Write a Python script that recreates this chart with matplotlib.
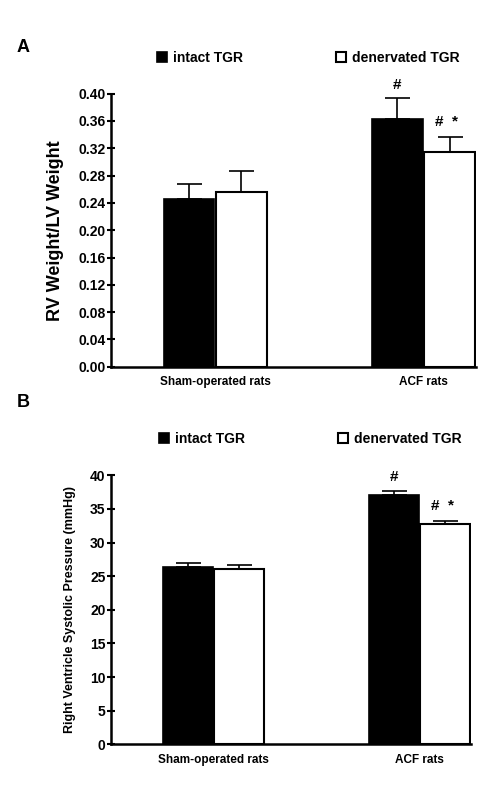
import matplotlib
matplotlib.use("Agg")
import numpy as np
from matplotlib import pyplot as plt
from matplotlib.patches import Patch

plt.rcParams["font.family"] = ["Liberation Sans", "DejaVu Sans"]
plt.rcParams["font.weight"] = "bold"

groups = ["Sham-operated rats", "ACF rats"]
series = ["intact TGR", "denervated TGR"]

# panel A: RV weight / LV weight
rv_ratio_intact = [0.246, 0.363]
rv_ratio_intact_err = [0.021, 0.030]
rv_ratio_denerv = [0.256, 0.315]
rv_ratio_denerv_err = [0.031, 0.021]
ticks_a = [0.00, 0.04, 0.08, 0.12, 0.16, 0.20, 0.24, 0.28, 0.32, 0.36, 0.40]

# panel B: right ventricle systolic pressure
rvsp_intact = [26.4, 37.1]
rvsp_intact_err = [0.5, 0.6]
rvsp_denerv = [26.1, 32.7]
rvsp_denerv_err = [0.6, 0.5]
ticks_b = [0, 5, 10, 15, 20, 25, 30, 35, 40]

# significance marks over the ACF bars
marks_intact = ["", "#"]
marks_denerv = ["", "#  *"]

W, H = 497, 807
fig = plt.figure(figsize=(W / 100, H / 100), dpi=100)


def draw_panel(ax, intact, intact_err, denerv, denerv_err, ticks, fmt):
    x = np.arange(len(groups))
    off = 0.125
    bw = 0.243
    ax.bar(x - off, intact, bw, color="black", edgecolor="black", linewidth=1.2)
    ax.bar(x + off, denerv, bw, color="white", edgecolor="black", linewidth=1.5)
    for xs, vals, errs in ((x - off, intact, intact_err), (x + off, denerv, denerv_err)):
        ax.errorbar(xs, vals, yerr=[np.zeros(len(vals)), errs], fmt="none",
                    ecolor="black", elinewidth=1.2, capsize=9, capthick=1.2)
    for xi, v, e, m in zip(x - off, intact, intact_err, marks_intact):
        if m:
            ax.annotate(m, (xi, v + e), xytext=(0, 5), textcoords="offset points",
                        ha="center", va="bottom", fontsize=11, fontweight="bold")
    for xi, v, e, m in zip(x + off, denerv, denerv_err, marks_denerv):
        if m:
            ax.annotate(m, (xi, v + e), xytext=(-2, 6), textcoords="offset points",
                        ha="center", va="bottom", fontsize=11, fontweight="bold")
    ax.set_xlim(-0.5, 1.252)
    ax.set_ylim(ticks[0], ticks[-1])
    ax.set_yticks(ticks)
    ax.set_yticklabels([fmt.format(t) for t in ticks], fontsize=10, fontweight="bold")
    ax.set_xticks(x)
    ax.set_xticklabels(groups, fontsize=8.5, fontweight="bold")
    ax.tick_params(axis="x", length=0, pad=7)
    ax.tick_params(axis="y", direction="inout", length=6, width=1.5, pad=1)
    for s in ("top", "right"):
        ax.spines[s].set_visible(False)
    for s in ("left", "bottom"):
        ax.spines[s].set_linewidth(1.8)
    ax.set_clip_on(False)


def draw_legend(x_px, y_px):
    handles = [Patch(facecolor="black", edgecolor="black", linewidth=1.2),
               Patch(facecolor="white", edgecolor="black", linewidth=1.5)]
    fig.legend(handles, series, loc="center left", ncol=2,
               bbox_to_anchor=(x_px / W, 1 - y_px / H), frameon=False,
               borderpad=0, borderaxespad=0, handlelength=0.75, handleheight=0.75,
               handletextpad=0.4, columnspacing=6.7,
               prop={"size": 10, "weight": "bold"})


ax_a = fig.add_axes([111 / W, 1 - 366.7 / H, (476 - 111) / W, (366.7 - 93.7) / H])
draw_panel(ax_a, rv_ratio_intact, rv_ratio_intact_err, rv_ratio_denerv,
           rv_ratio_denerv_err, ticks_a, "{:.2f}")
ax_a.set_ylabel("RV Weight/LV Weight", fontsize=13, fontweight="bold", labelpad=10)
draw_legend(157, 58)
fig.text(17 / W, 1 - 48 / H, "A", fontsize=13, fontweight="bold", va="center")

ax_b = fig.add_axes([111 / W, 1 - 744.3 / H, (471 - 111) / W, (744.3 - 475.3) / H])
draw_panel(ax_b, rvsp_intact, rvsp_intact_err, rvsp_denerv,
           rvsp_denerv_err, ticks_b, "{:d}")
ax_b.set_ylabel("Right Ventricle Systolic Pressure (mmHg)", fontsize=9,
                fontweight="bold", labelpad=10)
draw_legend(159, 439)
fig.text(17 / W, 1 - 402 / H, "B", fontsize=13, fontweight="bold", va="center")

fig.savefig("out.png", dpi=100)
